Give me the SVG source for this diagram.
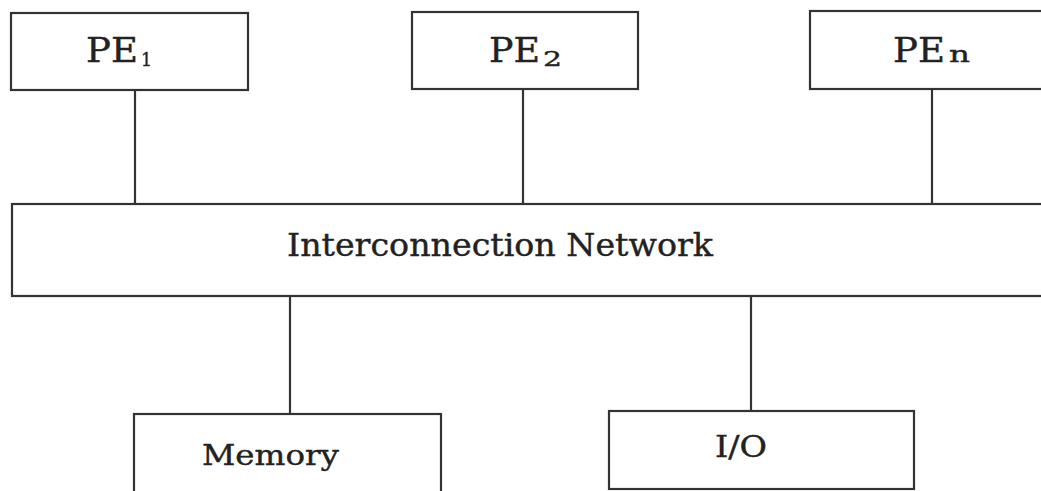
<svg xmlns="http://www.w3.org/2000/svg" width="1041" height="491" viewBox="0 0 1041 491">
<style>
.box{fill:#fff;stroke:#333;stroke-width:2.2}
.wire{stroke:#333;stroke-width:2.2;fill:none}
.t{font-family:"DejaVu Serif","Liberation Serif",serif;fill:#222;stroke:#222;stroke-width:0.4}
</style>
<rect width="1041" height="491" fill="#fff"/>
<g id="connectors">
<line class="wire" x1="135" y1="90" x2="135" y2="204"/>
<line class="wire" x1="523" y1="89" x2="523" y2="204"/>
<line class="wire" x1="932" y1="89" x2="932" y2="204"/>
<line class="wire" x1="290" y1="296" x2="290" y2="414"/>
<line class="wire" x1="751" y1="296" x2="751" y2="411"/>
</g>
<g id="pe1">
<rect class="box" x="11" y="13" width="237" height="77"/>
<text class="t" x="86" y="62" font-size="34" textLength="52" lengthAdjust="spacingAndGlyphs">PE</text>
<text class="t" x="141" y="66" font-size="19" textLength="11" lengthAdjust="spacingAndGlyphs">1</text>
</g>
<g id="pe2">
<rect class="box" x="412" y="12" width="226" height="77"/>
<text class="t" x="489" y="62" font-size="34" textLength="51" lengthAdjust="spacingAndGlyphs">PE</text>
<text class="t" x="543" y="66" font-size="20" textLength="19" lengthAdjust="spacingAndGlyphs">2</text>
</g>
<g id="pen">
<rect class="box" x="810" y="11" width="240" height="78"/>
<text class="t" x="893" y="62" font-size="34" textLength="52" lengthAdjust="spacingAndGlyphs">PE</text>
<text class="t" x="949" y="62" font-size="22" textLength="21" lengthAdjust="spacingAndGlyphs">n</text>
</g>
<g id="network">
<rect class="box" x="12" y="204" width="1040" height="92"/>
<text class="t" x="287" y="256" font-size="31" textLength="426" lengthAdjust="spacingAndGlyphs">Interconnection Network</text>
</g>
<g id="memory">
<rect class="box" x="134" y="414" width="307" height="90"/>
<text class="t" x="202" y="465" font-size="28" textLength="137" lengthAdjust="spacingAndGlyphs">Memory</text>
</g>
<g id="io">
<rect class="box" x="609" y="411" width="305" height="78"/>
<text class="t" x="715" y="457" font-size="30" textLength="52" lengthAdjust="spacingAndGlyphs">I/O</text>
</g>
</svg>
